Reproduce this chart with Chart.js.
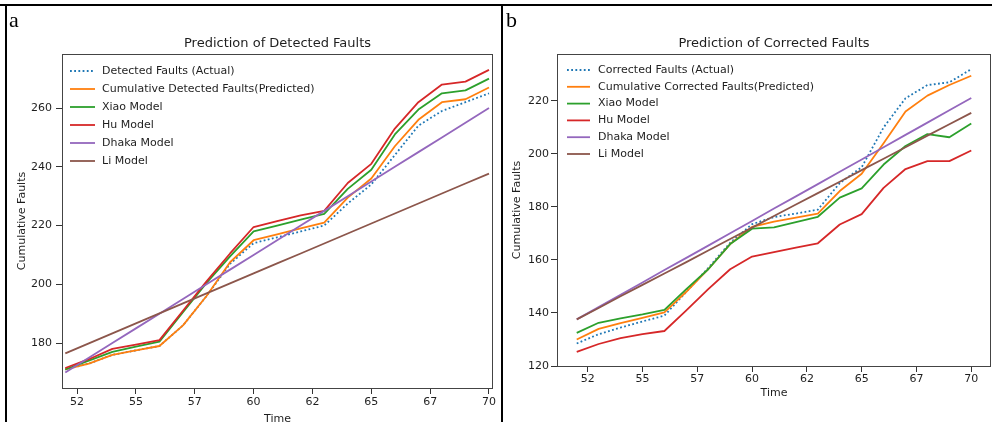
<!DOCTYPE html>
<html>
<head>
<meta charset="utf-8">
<script src="https://cdn.jsdelivr.net/npm/chart.js@4.4.0/dist/chart.umd.min.js"></script>
<style>
  body { margin: 0; background: #fff; }
  #wrap { position: relative; width: 992px; height: 422px; overflow: hidden; background: #fff; }
  canvas { position: absolute; top: 0; }
  .rule { position: absolute; background: #000; }
  .tag { position: absolute; font-family: "Liberation Serif", serif; font-size: 22px; line-height: 22px; color: #000; }
</style>
</head>
<body>
<div id="wrap">
  <canvas id="chartA" width="500" height="430" style="left:0"></canvas>
  <canvas id="chartB" width="492" height="422" style="left:500px"></canvas>
  <div class="rule" style="left:0;top:4px;width:992px;height:2px"></div>
  <div class="rule" style="left:5px;top:4px;width:2px;height:418px"></div>
  <div class="rule" style="left:501px;top:4px;width:2px;height:418px"></div>
  <div class="tag" style="left:9px;top:9px">a</div>
  <div class="tag" style="left:506px;top:9px">b</div>
</div>
<script>
// time points (shared by both panels)
var time = [52, 53, 54, 55, 56, 57, 58, 59, 60, 61, 62, 63, 64, 65, 66, 67, 68, 69, 70];
var tickValues = [52.5, 55, 57.5, 60, 62.5, 65, 67.5, 70];
var tickLabels = ['52', '55', '57', '60', '62', '65', '67', '70'];

// panel a - detected faults
var detActual    = [171, 173, 176, 177.5, 179, 186, 196, 207, 214, 216, 218, 220, 227.5, 234, 244, 254, 259, 262, 265];
var detPredicted = [171, 173, 176, 177.5, 179, 186, 196, 207.5, 215, 217, 219, 221, 229.5, 236, 247, 256, 262, 263, 267];
var detXiao      = [171, 174, 177, 178.8, 180.5, 190.5, 200.5, 209.5, 218, 220, 222, 224, 232.5, 239, 251, 259.5, 265, 266, 270];
var detHu        = [171.5, 174.5, 178, 179.5, 181, 191, 201, 210.5, 219.5, 221.5, 223.5, 225, 234.5, 241, 253, 262, 268, 269, 273];
var detDhaka     = [170, 175, 180, 185, 190, 195, 200, 205, 210, 215, 220, 225, 230, 235, 240, 245, 250, 255, 260];
var detLi        = [176.5, 179.9, 183.3, 186.7, 190.1, 193.5, 196.9, 200.3, 203.7, 207.1, 210.5, 213.9, 217.3, 220.7, 224.1, 227.5, 230.9, 234.3, 237.7];
var detYTicks = [180, 200, 220, 240, 260];
var detNames = ['Detected Faults (Actual)', 'Cumulative Detected Faults(Predicted)', 'Xiao Model', 'Hu Model', 'Dhaka Model', 'Li Model'];

// panel b - corrected faults
var corActual    = [128.5, 132, 134.5, 136.8, 139, 148, 157, 166.5, 173.5, 176.2, 177.5, 179, 189, 195, 210, 221, 226, 227, 232];
var corPredicted = [130, 134, 136.2, 138.2, 140.2, 148, 156.5, 166, 172.5, 174.5, 176, 177.5, 186, 192.5, 204, 216, 222, 226, 229.5];
var corXiao      = [132.5, 136.3, 138, 139.5, 141.2, 149, 156.5, 166, 171.8, 172.3, 174.3, 176.3, 183.5, 187, 196, 203, 207.5, 206.3, 211.5];
var corHu        = [125.3, 128.3, 130.5, 132, 133.2, 141, 149, 156.5, 161.3, 163, 164.7, 166.3, 173.4, 177.3, 187.2, 194.3, 197.3, 197.3, 201.3];
var corDhaka     = [137.6, 142.2, 146.9, 151.5, 156.2, 160.8, 165.4, 170.1, 174.7, 179.4, 184, 188.6, 193.3, 197.9, 202.5, 207.2, 211.8, 216.5, 221.1];
var corLi        = [137.6, 141.9, 146.3, 150.6, 154.9, 159.2, 163.6, 167.9, 172.2, 176.6, 180.9, 185.2, 189.5, 193.9, 198.2, 202.5, 206.9, 211.2, 215.5];
var corYTicks = [120, 140, 160, 180, 200, 220];
var corNames = ['Corrected Faults (Actual)', 'Cumulative Corrected Faults(Predicted)', 'Xiao Model', 'Hu Model', 'Dhaka Model', 'Li Model'];

var colors = ['#1f77b4', '#ff7f0e', '#2ca02c', '#d62728', '#9467bd', '#8c564b'];
var textColor = '#1e1e1e';

Chart.defaults.font.family = '"DejaVu Sans", sans-serif';
Chart.defaults.color = textColor;

// spines, title and the in-axes legend (matplotlib style)
var decor = {
    id: 'decor',
    afterDraw: function(chart, args, opts) {
        var ctx = chart.ctx, a = chart.chartArea;
        ctx.save();
        ctx.strokeStyle = '#444';
        ctx.lineWidth = 1;
        ctx.strokeRect(a.left + 0.5, a.top + 0.5, a.right - a.left - 1, a.bottom - a.top);

        ctx.fillStyle = textColor;
        ctx.font = '13px "DejaVu Sans"';
        ctx.textAlign = 'center';
        ctx.textBaseline = 'alphabetic';
        ctx.fillText(opts.title, (a.left + a.right) / 2, opts.titleY);

        ctx.font = '11px "DejaVu Sans"';
        ctx.textAlign = 'left';
        ctx.textBaseline = 'middle';
        chart.data.datasets.forEach(function(ds, i) {
            var y = opts.legY + i * opts.legDy;
            ctx.strokeStyle = ds.borderColor;
            ctx.lineWidth = ds.borderWidth;
            ctx.setLineDash(ds.borderDash);
            ctx.beginPath();
            ctx.moveTo(opts.legX1, y);
            ctx.lineTo(opts.legX2, y);
            ctx.stroke();
            ctx.setLineDash([]);
            ctx.fillText(ds.label, opts.legTx, y);
        });
        ctx.restore();
    }
};

function makeChart(id, title, names, series, yTicks, box) {
    var canvas = document.getElementById(id);
    var datasets = series.map(function(vals, i) {
        return {
            label: names[i],
            data: vals.map(function(v, k) { return {x: time[k], y: v}; }),
            borderColor: colors[i],
            borderWidth: 1.8,
            borderDash: i === 0 ? [1.8, 2.4] : [],
            borderJoinStyle: 'round',
            pointRadius: 0,
            tension: 0,
            fill: false,
            order: series.length - i   // later series on top, like matplotlib
        };
    });
    return new Chart(canvas, {
        type: 'line',
        data: {datasets: datasets},
        options: {
            responsive: false,
            animation: false,
            devicePixelRatio: 1,
            events: [],
            layout: {padding: {left: 0, top: box.top, right: canvas.width - box.right, bottom: 0}},
            plugins: {
                legend: {display: false},
                title: {display: false},
                tooltip: {enabled: false},
                decor: {title: title, titleY: box.titleY, legX1: box.legX1, legX2: box.legX2,
                        legTx: box.legTx, legY: box.legY, legDy: box.legDy}
            },
            scales: {
                x: {
                    type: 'linear',
                    min: box.xMin,
                    max: box.xMax,
                    afterBuildTicks: function(axis) {
                        axis.ticks = tickValues.map(function(v) { return {value: v}; });
                    },
                    afterFit: function(scale) { scale.height = canvas.height - box.bottom; },
                    ticks: {
                        autoSkip: false, maxRotation: 0, padding: box.xTickPad,
                        font: {size: 11}, color: textColor,
                        callback: function(v) { return tickLabels[tickValues.indexOf(v)]; }
                    },
                    grid: {drawOnChartArea: false, drawTicks: true, tickLength: 6, color: '#333'},
                    border: {display: false},
                    title: {display: true, text: 'Time', font: {size: 11}, color: textColor,
                            padding: {top: 0, bottom: box.xTitlePad}}
                },
                y: {
                    type: 'linear',
                    min: box.yMin,
                    max: box.yMax,
                    afterBuildTicks: function(axis) {
                        axis.ticks = yTicks.map(function(v) { return {value: v}; });
                    },
                    afterFit: function(scale) { scale.width = box.left; },
                    ticks: {padding: box.yTickPad, font: {size: 11}, color: textColor},
                    grid: {drawOnChartArea: false, drawTicks: true, tickLength: 6, color: '#333'},
                    border: {display: false},
                    title: {display: true, text: 'Cumulative Faults', font: {size: 11}, color: textColor,
                            padding: {top: box.yTitlePad, bottom: 0}}
                }
            }
        },
        plugins: [decor]
    });
}

makeChart('chartA', 'Prediction of Detected Faults', detNames,
    [detActual, detPredicted, detXiao, detHu, detDhaka, detLi], detYTicks,
    {left: 62, top: 54, right: 493, bottom: 388, xMin: 51.86, xMax: 70.17, yMin: 164.7, yMax: 278.4,
     xTickPad: 2, yTickPad: 4, xTitlePad: 4.4, yTitlePad: 15.4, titleY: 47,
     legX1: 70, legX2: 95, legTx: 102, legY: 71, legDy: 18});

makeChart('chartB', 'Prediction of Corrected Faults', corNames,
    [corActual, corPredicted, corXiao, corHu, corDhaka, corLi], corYTicks,
    {left: 57, top: 54, right: 491, bottom: 366, xMin: 51.1, xMax: 70.9, yMin: 120, yMax: 237.7,
     xTickPad: 1, yTickPad: 2, xTitlePad: 22, yTitlePad: 10.4, titleY: 47,
     legX1: 67, legX2: 90, legTx: 98, legY: 70, legDy: 16.8});
</script>
</body>
</html>
